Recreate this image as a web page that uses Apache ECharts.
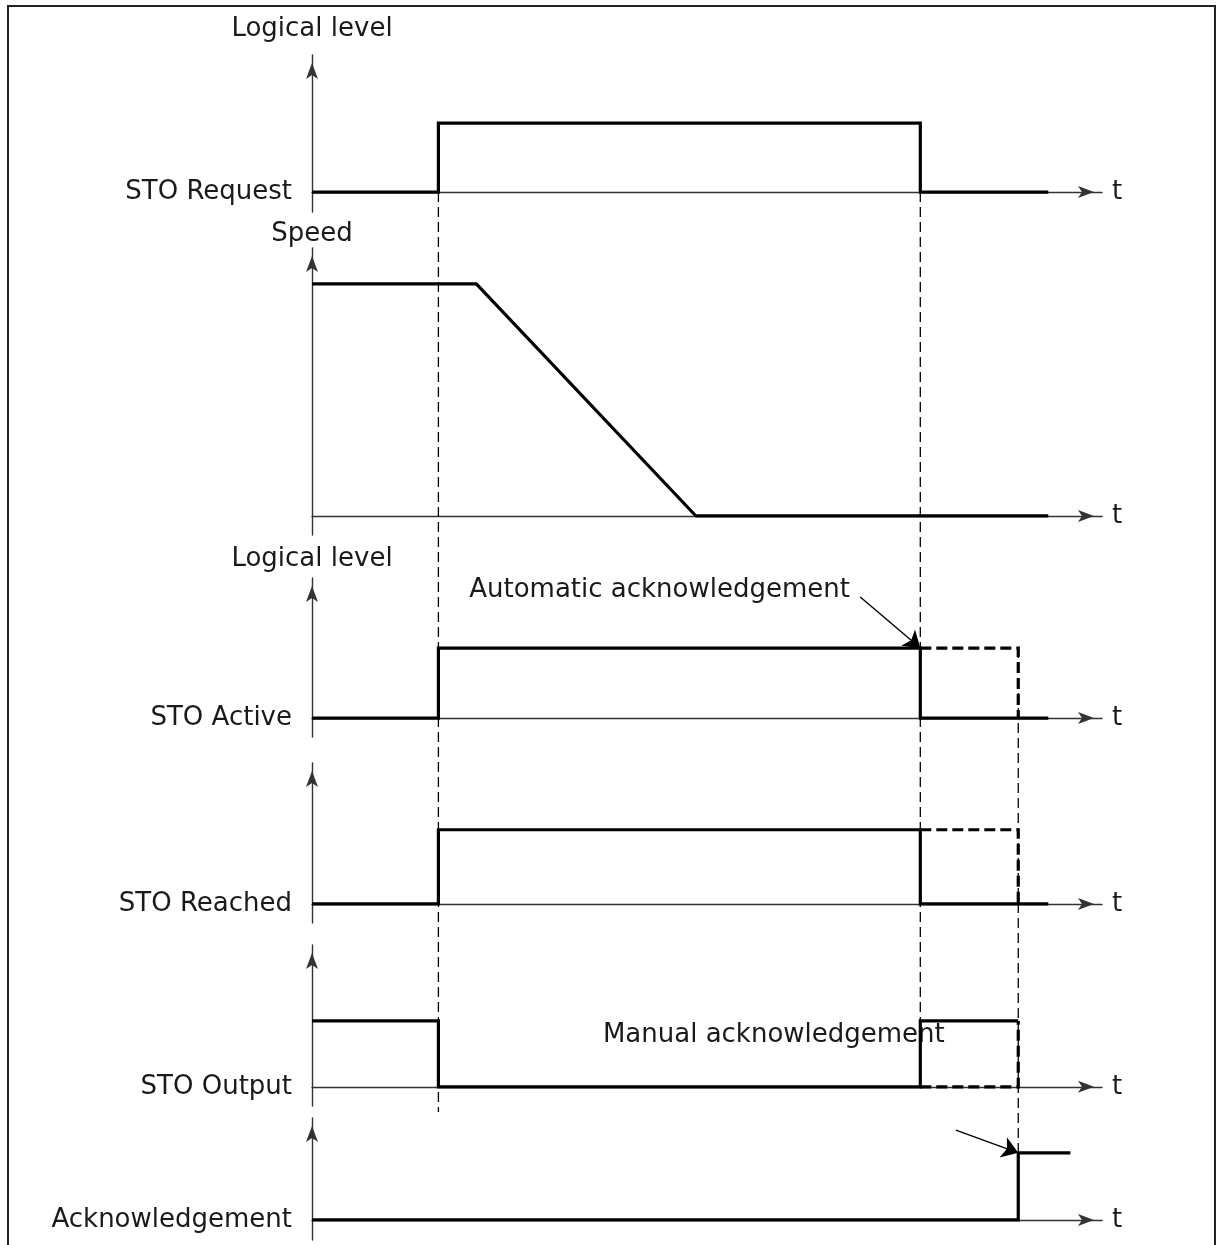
<!DOCTYPE html>
<html>
<head>
<meta charset="utf-8">
<script src="https://cdn.jsdelivr.net/npm/echarts@6/dist/echarts.min.js"></script>
<style>
html, body { margin: 0; padding: 0; background: #fff; }
#container { width: 1217px; height: 1245px; }
</style>
</head>
<body>
<div id="container"></div>
<script>
// time in arbitrary units, 0..100 along every panel
var reqT = [0, 16, 16, 77, 77, 93.2];
var reqLv = [0, 0, 1, 1, 0, 0];
var speedT = [0, 20.8, 48.6, 93.2];
var speedV = [1, 1, 0, 0];
var activeT = [0, 16, 16, 77, 77, 93.2];
var activeLv = [0, 0, 1, 1, 0, 0];
var reachedT = [0, 16, 16, 77, 77, 93.2];
var reachedLv = [0, 0, 1, 1, 0, 0];
var holdT = [77, 89.4, 89.4];      // dashed: manual ack case
var holdLv = [1, 1, 0];
var outT = [0, 16, 16, 77, 77, 89.4];
var outLv = [1, 1, 0, 0, 1, 1];
var outHoldT = [77, 89.4, 89.4];
var outHoldLv = [0, 0, 1];
var ackT = [0, 89.4, 89.4, 96];
var ackLv = [0, 0, 1, 1];

var panelNames = ['Logical level', 'Speed', 'Logical level', '', '', ''];
var panelLabels = ['STO Request', '', 'STO Active', 'STO Reached', 'STO Output', 'Acknowledgement'];
var yMin = [-0.29, -0.082, -0.27, -0.257, -0.29, -0.3];
var yMax = [1.99, 1.155, 2.0, 1.9, 2.15, 1.52];

// vertical dashed guides: time, [panel, level] start, [panel, level] end
var guideT = [16, 77, 89.4];
var guideFrom = [[0, 0], [0, 0], [2, 1]];
var guideTo = [[4, -0.38], [4, 0], [5, 1]];

// annotations
var noteText = ['Automatic acknowledgement', 'Manual acknowledgement'];
var notePanel = [2, 5];
var noteT = [68.1, 80.1];
var noteLv = [1.83, 2.76];
var noteFromT = [69.4, 81.5];
var noteFromLv = [1.73, 1.34];
var noteToT = [77, 89.4];
var noteToLv = [1, 1];

// layout (pixels)
var gridTop = [55, 248, 578, 763, 945, 1118];
var gridBottom = [212, 535, 737, 923, 1106, 1240];
var FONT = 'DejaVu Sans';
var TXT = '#1a1a1a';

function zip(a, b) {
    var out = [];
    for (var i = 0; i < a.length; i++) out.push([a[i], b[i]]);
    return out;
}

var grids = [], xAxes = [], yAxes = [], series = [];
for (var p = 0; p < 6; p++) {
    grids.push({left: 312, right: 115, top: gridTop[p], height: gridBottom[p] - gridTop[p]});
    xAxes.push({
        type: 'value', gridIndex: p, min: 0, max: 100,
        name: 't', nameLocation: 'end', nameGap: 10,
        nameTextStyle: {fontSize: 26, color: TXT, fontFamily: FONT},
        axisLine: {onZero: true, symbol: ['none', 'arrow'], symbolSize: [9, 16], symbolOffset: [0, -8],
            lineStyle: {color: '#333', width: 1.4}},
        axisTick: {show: false}, axisLabel: {show: false}, splitLine: {show: false}
    });
    yAxes.push({
        type: 'value', gridIndex: p, min: yMin[p], max: yMax[p],
        name: panelNames[p], nameLocation: 'end', nameGap: [13, 1, 6, 0, 0, 0][p],
        nameTextStyle: {fontSize: 26, color: TXT, fontFamily: FONT, align: 'center'},
        axisLine: {onZero: true, symbol: ['none', 'arrow'], symbolSize: [9, 16], symbolOffset: [0, -8],
            lineStyle: {color: '#333', width: 1.4}},
        axisTick: {show: false}, splitLine: {show: false},
        axisLabel: {
            show: panelLabels[p] !== '', customValues: [0], margin: 20,
            fontSize: 26, color: TXT, fontFamily: FONT,
            formatter: (function (s) { return function () { return s; }; })(panelLabels[p])
        }
    });
}

function sig(p, t, v, dashed) {
    return {
        type: 'line', xAxisIndex: p, yAxisIndex: p, data: zip(t, v),
        symbol: 'none', z: 5, animation: false, silent: true,
        lineStyle: {color: '#000', width: 3.2, type: dashed ? [11, 5] : 'solid', join: 'miter', cap: 'butt'}
    };
}

series.push(sig(0, reqT, reqLv));
series.push(sig(1, speedT, speedV));
series.push(sig(2, activeT, activeLv));
series.push(sig(2, holdT, holdLv, true));
series.push(sig(3, reachedT, reachedLv));
series.push(sig(3, holdT, holdLv, true));
series.push(sig(4, outT, outLv));
series.push(sig(4, outHoldT, outHoldLv, true));
series.push(sig(5, ackT, ackLv));

for (var n = 0; n < noteText.length; n++) {
    series.push({
        type: 'scatter', xAxisIndex: notePanel[n], yAxisIndex: notePanel[n],
        data: [[noteT[n], noteLv[n]]], symbolSize: 0, clip: false, animation: false, silent: true,
        itemStyle: {opacity: 1},
        label: {show: true, position: 'left', distance: 0, formatter: noteText[n],
            fontSize: 26, color: TXT, fontFamily: FONT, opacity: 1},
        markLine: {
            silent: true, animation: false, symbol: ['none', 'arrow'], symbolSize: 16,
            label: {show: false},
            lineStyle: {color: '#000', width: 1.4, type: 'solid', opacity: 1},
            data: [[{coord: [noteFromT[n], noteFromLv[n]]}, {coord: [noteToT[n], noteToLv[n]]}]]
        }
    });
}

var dom = document.getElementById('container');
var myChart = echarts.init(dom);
var option = {
    backgroundColor: '#fff',
    animation: false,
    grid: grids,
    xAxis: xAxes,
    yAxis: yAxes,
    series: series
};
myChart.setOption(option);

// frame + dashed guides through the panels
var graphics = [{
    type: 'rect', shape: {x: 8, y: 6, width: 1207, height: 1260},
    style: {fill: 'none', stroke: '#222', lineWidth: 2}, silent: true
}];
for (var g = 0; g < guideT.length; g++) {
    var a = myChart.convertToPixel({gridIndex: guideFrom[g][0]}, [guideT[g], guideFrom[g][1]]);
    var b = myChart.convertToPixel({gridIndex: guideTo[g][0]}, [guideT[g], guideTo[g][1]]);
    graphics.push({
        type: 'line', silent: true, z: 1,
        shape: {x1: a[0], y1: a[1], x2: b[0], y2: b[1]},
        style: {stroke: '#000', lineWidth: 1.3, lineDash: [10, 5]}
    });
}
myChart.setOption({graphic: graphics});
</script>
</body>
</html>
